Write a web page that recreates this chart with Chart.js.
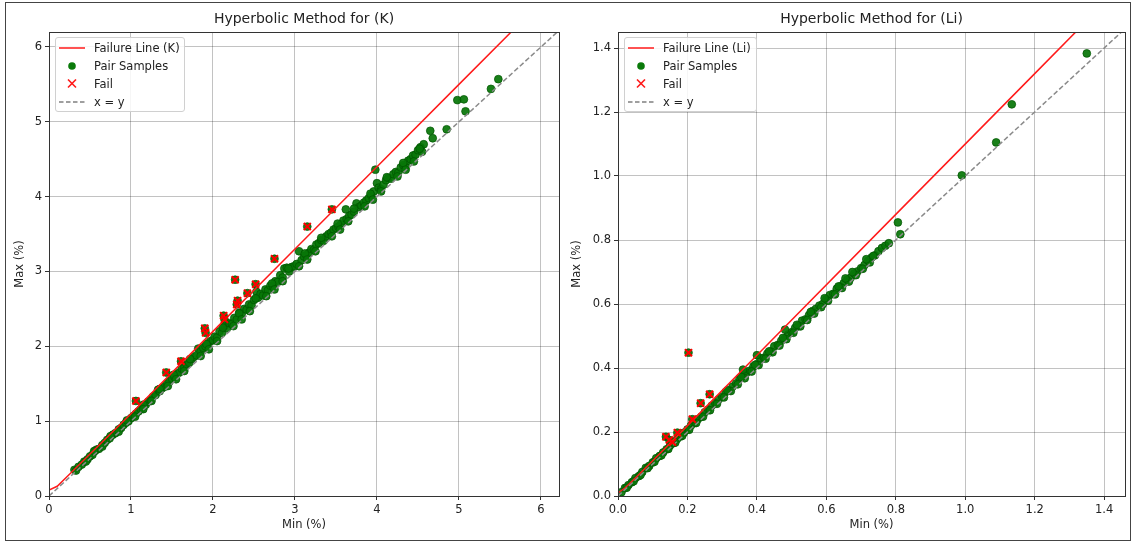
<!DOCTYPE html>
<html>
<head>
<meta charset="utf-8">
<script src="https://cdn.jsdelivr.net/npm/chart.js@4.4.1/dist/chart.umd.min.js"></script>
<style>
	html, body { margin: 0; padding: 0; background: #fff; }
	body { width: 1132px; height: 543px; position: relative; overflow: hidden; font-family: "DejaVu Sans", sans-serif; }
	.frame { position: absolute; left: 5px; top: 2px; width: 1124px; height: 537px; border: 1.5px solid #444; pointer-events: none; }
	canvas { position: absolute; top: 0; }
	.legend { position: absolute; box-sizing: border-box; height: 75px; padding-top: 1px; background: rgba(255,255,255,0.85); border: 1px solid #d0d0d0; border-radius: 3px; font-size: 11.5px; color: #222; white-space: nowrap; }
	.legend .row { display: flex; align-items: center; height: 18px; }
	.legend svg { margin-left: 3px; margin-right: 9px; flex: none; }
</style>
</head>
<body>
<canvas id="chartK" width="566" height="543" style="left:0"></canvas>
<canvas id="chartLi" width="566" height="543" style="left:566px"></canvas>

<div class="legend" style="left:55px;top:37px;width:130px">
	<div class="row"><svg width="26" height="10"><line x1="0" y1="5" x2="26" y2="5" stroke="#ff1a1a" stroke-width="1.5"/></svg><span>Failure Line (K)</span></div>
	<div class="row"><svg width="26" height="10"><circle cx="13" cy="5" r="3.8" fill="#0a7a0a"/></svg><span>Pair Samples</span></div>
	<div class="row"><svg width="26" height="10"><path d="M9 0.5 L17 8.5 M17 0.5 L9 8.5" stroke="#ff1a1a" stroke-width="1.6"/></svg><span>Fail</span></div>
	<div class="row"><svg width="26" height="10"><line x1="0" y1="5" x2="26" y2="5" stroke="#808080" stroke-width="1.5" stroke-dasharray="4.5 2.5"/></svg><span>x = y</span></div>
</div>
<div class="legend" style="left:624px;top:37px;width:133px">
	<div class="row"><svg width="26" height="10"><line x1="0" y1="5" x2="26" y2="5" stroke="#ff1a1a" stroke-width="1.5"/></svg><span>Failure Line (Li)</span></div>
	<div class="row"><svg width="26" height="10"><circle cx="13" cy="5" r="3.8" fill="#0a7a0a"/></svg><span>Pair Samples</span></div>
	<div class="row"><svg width="26" height="10"><path d="M9 0.5 L17 8.5 M17 0.5 L9 8.5" stroke="#ff1a1a" stroke-width="1.6"/></svg><span>Fail</span></div>
	<div class="row"><svg width="26" height="10"><line x1="0" y1="5" x2="26" y2="5" stroke="#808080" stroke-width="1.5" stroke-dasharray="4.5 2.5"/></svg><span>x = y</span></div>
</div>
<div class="frame"></div>

<script>
	// --- K (%) ---
	var kTicks = [0, 1, 2, 3, 4, 5, 6];
	var kMin = [0.31, 0.33, 0.36, 0.40, 0.43, 0.47, 0.50, 0.53, 0.56, 0.58, 0.61, 0.65, 0.68, 0.71, 0.74, 0.78, 0.81, 0.85, 0.88, 0.91,
		0.94, 0.97, 1.00, 1.03, 1.06, 1.09, 1.12, 1.15, 1.18, 1.21, 1.24, 1.27, 1.30, 1.33, 1.35, 1.38, 1.41, 1.44, 1.47, 1.50,
		1.53, 1.56, 1.59, 1.62, 1.65, 1.68, 1.71, 1.74, 1.77, 1.80, 1.82, 1.85, 1.88, 1.91, 1.94, 1.97, 2.00, 2.02, 2.05, 2.08,
		2.11, 2.14, 2.17, 2.20, 2.23, 2.26, 2.29, 2.32, 2.35, 2.38, 2.41, 2.44, 2.47, 2.50, 2.53, 2.55, 2.58, 2.61, 2.64, 2.67,
		2.70, 2.73, 2.76, 2.79, 2.82, 2.85, 2.87, 2.90, 2.93, 2.96, 2.99, 3.02, 3.05, 3.08, 3.11, 3.14, 3.17, 3.20, 3.23, 3.26,
		3.29, 3.32, 3.35, 3.38, 3.41, 3.44, 3.47, 3.50, 3.53, 3.56, 3.59, 3.62, 3.63, 3.66, 3.69, 3.72, 3.75, 3.78, 3.81, 3.84,
		3.87, 3.90, 3.93, 3.96, 3.98, 4.00, 4.02, 4.05, 4.08, 4.11, 4.14, 4.17, 4.20, 4.23, 4.26, 4.29, 4.32, 4.35, 4.38, 4.41,
		4.44, 4.47, 4.50, 4.53, 4.55, 4.57, 4.65, 4.68, 4.85, 4.98, 5.06, 5.08, 5.39, 5.48,
		0.45, 0.65, 0.85, 1.05, 1.25, 1.45, 1.65, 1.85, 2.05, 2.25, 2.45, 2.65, 2.85, 3.05, 3.25, 3.45, 3.65, 3.85, 4.05, 4.25, 4.45,
		0.55, 0.75, 0.95, 1.15, 1.35, 1.52, 1.72, 1.92, 2.12, 2.32, 2.52, 2.72, 2.92, 3.12, 3.32, 3.52, 3.72, 3.92, 4.12, 4.32, 4.52,
		1.15, 1.55, 1.95, 2.35, 2.75, 3.15, 3.55, 3.95, 4.35];
	var kMax = [0.35, 0.34, 0.39, 0.42, 0.46, 0.49, 0.53, 0.55, 0.60, 0.62, 0.63, 0.68, 0.71, 0.75, 0.77, 0.82, 0.84, 0.89, 0.91, 0.95,
		0.98, 1.00, 1.04, 1.07, 1.10, 1.13, 1.16, 1.20, 1.22, 1.26, 1.28, 1.33, 1.35, 1.42, 1.40, 1.44, 1.46, 1.50, 1.53, 1.57,
		1.59, 1.63, 1.65, 1.70, 1.72, 1.76, 1.78, 1.83, 1.86, 1.88, 1.97, 1.93, 1.98, 2.00, 2.04, 2.07, 2.08, 2.13, 2.12, 2.20,
		2.18, 2.27, 2.24, 2.31, 2.30, 2.38, 2.36, 2.45, 2.43, 2.50, 2.49, 2.56, 2.55, 2.62, 2.73, 2.65, 2.70, 2.68, 2.76, 2.75,
		2.81, 2.80, 2.87, 2.86, 2.95, 2.92, 3.04, 3.05, 3.00, 3.06, 3.07, 3.10, 3.27, 3.15, 3.20, 3.22, 3.25, 3.30, 3.29, 3.36,
		3.38, 3.42, 3.41, 3.47, 3.50, 3.52, 3.56, 3.58, 3.60, 3.63, 3.68, 3.83, 3.70, 3.74, 3.76, 3.80, 3.91, 3.86, 3.88, 3.92,
		3.95, 3.98, 4.02, 4.07, 4.36, 4.18, 4.12, 4.10, 4.16, 4.22, 4.25, 4.24, 4.30, 4.33, 4.32, 4.39, 4.42, 4.40, 4.48, 4.50,
		4.55, 4.56, 4.62, 4.66, 4.60, 4.70, 4.88, 4.78, 4.90, 5.29, 5.30, 5.14, 5.44, 5.57,
		0.46, 0.66, 0.86, 1.06, 1.27, 1.47, 1.67, 1.87, 2.07, 2.27, 2.47, 2.67, 2.87, 3.07, 3.27, 3.47, 3.67, 3.87, 4.07, 4.27, 4.47,
		0.60, 0.80, 1.01, 1.22, 1.43, 1.62, 1.83, 2.03, 2.25, 2.44, 2.64, 2.84, 3.04, 3.24, 3.45, 3.64, 3.84, 4.04, 4.26, 4.45, 4.64,
		1.16, 1.56, 1.96, 2.36, 2.76, 3.16, 3.56, 3.96, 4.36];
	var kFailMin = [1.06, 1.43, 1.61, 1.90, 1.91, 2.13, 2.14, 2.27, 2.29, 2.30, 2.42, 2.52, 2.75, 3.15, 3.45];
	var kFailMax = [1.27, 1.65, 1.80, 2.24, 2.18, 2.41, 2.36, 2.89, 2.56, 2.61, 2.71, 2.83, 3.17, 3.60, 3.83];
	var kLineMin = [0, 0.1, 0.25, 0.5, 1, 2, 3, 4, 5, 5.7];
	var kLineMax = [0.08, 0.13, 0.29, 0.56, 1.10, 2.20, 3.30, 4.40, 5.50, 6.27];
	var kDiag = [0, 6.22];

	// --- Li (%) ---
	var liTicks = [0, 0.2, 0.4, 0.6, 0.8, 1.0, 1.2, 1.4];
	var liMin = [0.01, 0.02, 0.03, 0.04, 0.05, 0.06, 0.07, 0.08, 0.09, 0.10, 0.11, 0.12, 0.13, 0.14, 0.15, 0.16, 0.17, 0.18, 0.19, 0.20,
		0.21, 0.22, 0.23, 0.24, 0.25, 0.26, 0.27, 0.28, 0.29, 0.30, 0.31, 0.32, 0.33, 0.34, 0.35, 0.36, 0.37, 0.38, 0.39, 0.40,
		0.41, 0.42, 0.43, 0.44, 0.45, 0.46, 0.47, 0.48, 0.49, 0.50, 0.51, 0.52, 0.53, 0.54, 0.55, 0.56, 0.57, 0.58, 0.59, 0.60,
		0.61, 0.62, 0.63, 0.64, 0.65, 0.66, 0.67, 0.68, 0.69, 0.70, 0.71, 0.72, 0.73, 0.74, 0.75, 0.76, 0.77, 0.78,
		0.025, 0.045, 0.065, 0.085, 0.105, 0.125, 0.145, 0.165, 0.185, 0.205, 0.225, 0.245, 0.265, 0.285, 0.305, 0.325, 0.345, 0.365,
		0.385, 0.405, 0.425, 0.445, 0.465, 0.485, 0.505, 0.525, 0.545, 0.565, 0.585, 0.605, 0.625, 0.645, 0.665, 0.685, 0.705, 0.725,
		0.315, 0.355, 0.395, 0.435, 0.475, 0.515, 0.555, 0.595, 0.635, 0.655, 0.675, 0.715, 0.735,
		1.35, 1.134, 1.089, 0.99, 0.806, 0.813, 0.481, 0.40, 0.36];
	var liMax = [0.012, 0.025, 0.034, 0.043, 0.056, 0.062, 0.075, 0.088, 0.094, 0.105, 0.118, 0.125, 0.136, 0.146, 0.158, 0.165, 0.178, 0.186, 0.198, 0.208,
		0.220, 0.228, 0.240, 0.248, 0.262, 0.270, 0.282, 0.290, 0.302, 0.310, 0.325, 0.330, 0.342, 0.352, 0.368, 0.380, 0.385, 0.392, 0.405, 0.412,
		0.430, 0.432, 0.445, 0.452, 0.468, 0.472, 0.485, 0.492, 0.505, 0.512, 0.525, 0.532, 0.548, 0.552, 0.565, 0.578, 0.585, 0.595, 0.600, 0.615,
		0.628, 0.632, 0.648, 0.655, 0.665, 0.676, 0.682, 0.695, 0.702, 0.712, 0.722, 0.735, 0.745, 0.752, 0.765, 0.775, 0.782, 0.790,
		0.026, 0.046, 0.066, 0.087, 0.107, 0.127, 0.147, 0.167, 0.188, 0.207, 0.228, 0.248, 0.268, 0.288, 0.308, 0.328, 0.349, 0.368,
		0.389, 0.409, 0.429, 0.449, 0.470, 0.490, 0.510, 0.530, 0.550, 0.570, 0.590, 0.610, 0.630, 0.650, 0.670, 0.690, 0.710, 0.730,
		0.330, 0.372, 0.410, 0.452, 0.494, 0.535, 0.575, 0.618, 0.655, 0.680, 0.700, 0.740, 0.750,
		1.383, 1.224, 1.105, 1.002, 0.855, 0.818, 0.520, 0.440, 0.395];
	var liFailMin = [0.203, 0.238, 0.264, 0.214, 0.138, 0.148, 0.171, 0.157];
	var liFailMax = [0.448, 0.290, 0.318, 0.240, 0.185, 0.175, 0.198, 0.168];
	var liLineMin = [0, 0.02, 0.05, 0.1, 0.2, 0.4, 0.8, 1.2, 1.34];
	var liLineMax = [0.01, 0.025, 0.056, 0.11, 0.22, 0.44, 0.88, 1.32, 1.474];
	var liDiag = [0, 1.46];

	function pts(xs, ys) {
		return xs.map(function (x, i) { return { x: x, y: ys[i] }; });
	}

	var TEXT = '#222';
	var FONT = { family: '"DejaVu Sans", sans-serif', size: 11.5 };

	// matplotlib-like box round the plot area
	var framePlugin = {
		id: 'frame',
		afterDraw: function (chart) {
			var a = chart.chartArea, ctx = chart.ctx;
			ctx.save();
			ctx.strokeStyle = '#333';
			ctx.lineWidth = 1;
			ctx.strokeRect(Math.round(a.left) + 0.5, Math.round(a.top) + 0.5, Math.round(a.right - a.left), Math.round(a.bottom - a.top));
			ctx.restore();
		}
	};

	function makeChart(id, o) {
		var axis = function (ticks, maxV, title, fmt) {
			return {
				type: 'linear',
				min: 0,
				max: maxV,
				afterBuildTicks: function (s) { s.ticks = ticks.map(function (v) { return { value: v }; }); },
				ticks: { font: FONT, color: TEXT, padding: 3, callback: function (v) { return fmt(v); } },
				grid: { color: 'rgba(0,0,0,0.24)', lineWidth: 1, tickColor: '#333', tickLength: 4 },
				border: { display: false },
				title: { display: true, text: title, font: FONT, color: TEXT }
			};
		};

		var xAxis = axis(o.ticks, o.xMax, 'Min (%)', o.fmt);
		xAxis.title.padding = { top: 0, bottom: 11 };
		xAxis.afterFit = function (s) { s.height = 47; };

		var yAxis = axis(o.ticks, o.yMax, 'Max (%)', o.fmt);
		yAxis.title.padding = { top: o.yTitlePad, bottom: 0 };
		yAxis.afterFit = function (s) { s.width = o.yWidth; };

		return new Chart(document.getElementById(id), {
			type: 'scatter',
			data: {
				datasets: [{
					label: 'Fail',
					data: pts(o.failMin, o.failMax),
					pointStyle: 'crossRot',
					pointRadius: 5,
					borderColor: '#ff0000',
					borderWidth: 2,
					order: 0
				}, {
					label: 'x = y',
					data: pts(o.diag, o.diag),
					showLine: true,
					borderColor: '#8a8a8a',
					borderWidth: 1.5,
					borderDash: [5, 2.5],
					pointRadius: 0,
					order: 1
				}, {
					label: o.lineLabel,
					data: pts(o.lineMin, o.lineMax),
					showLine: true,
					borderColor: '#ff1a1a',
					borderWidth: 1.5,
					pointRadius: 0,
					order: 2
				}, {
					label: 'Pair Samples',
					data: pts(o.min.concat(o.failMin), o.max.concat(o.failMax)),
					pointRadius: 3.9,
					backgroundColor: 'rgba(8,118,8,0.93)',
					borderColor: 'rgba(0,85,0,0.9)',
					borderWidth: 0.8,
					order: 3
				}]
			},
			options: {
				responsive: false,
				devicePixelRatio: 1,
				animation: false,
				layout: { padding: { left: 0, right: o.padRight, top: 0, bottom: 0 } },
				plugins: {
					legend: { display: false },
					tooltip: { enabled: false },
					title: {
						display: true,
						text: o.title,
						fullSize: false,
						color: TEXT,
						font: { family: '"DejaVu Sans", sans-serif', size: 14, weight: 'normal' },
						padding: { top: 10.6, bottom: 4.6 }
					}
				},
				scales: { x: xAxis, y: yAxis }
			},
			plugins: [framePlugin]
		});
	}

	makeChart('chartK', {
		title: 'Hyperbolic Method for (K)',
		lineLabel: 'Failure Line (K)',
		ticks: kTicks, xMax: 6.22, yMax: 6.2,
		fmt: function (v) { return String(v); },
		min: kMin, max: kMax, failMin: kFailMin, failMax: kFailMax,
		lineMin: kLineMin, lineMax: kLineMax, diag: kDiag,
		yWidth: 49, yTitlePad: 13, padRight: 5
	});

	makeChart('chartLi', {
		title: 'Hyperbolic Method for (Li)',
		lineLabel: 'Failure Line (Li)',
		ticks: liTicks, xMax: 1.46, yMax: 1.45,
		fmt: function (v) { return v.toFixed(1); },
		min: liMin, max: liMax, failMin: liFailMin, failMax: liFailMax,
		lineMin: liLineMin, lineMax: liLineMax, diag: liDiag,
		yWidth: 52, yTitlePad: 4.5, padRight: 4
	});
</script>
</body>
</html>
